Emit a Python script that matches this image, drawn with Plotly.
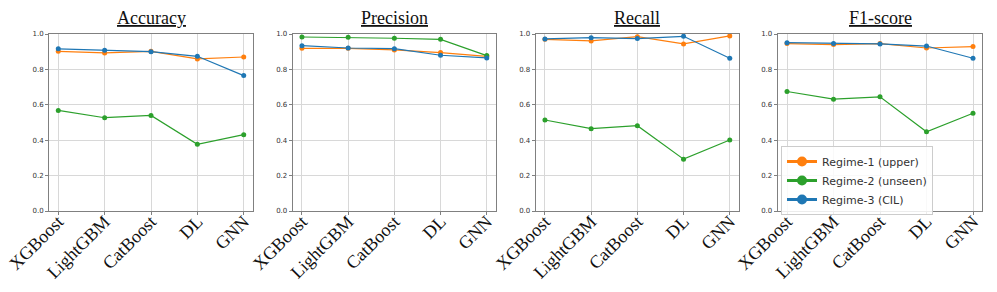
import plotly.graph_objects as go
from plotly.subplots import make_subplots

models = ["XGBoost", "LightGBM", "CatBoost", "DL", "GNN"]
metrics = ["Accuracy", "Precision", "Recall", "F1-score"]
regimes = ["Regime-1 (upper)", "Regime-2 (unseen)", "Regime-3 (CIL)"]
colors = ["#ff7f0e", "#2ca02c", "#1f77b4"]

# values per metric, per regime (upper, unseen, CIL)
accuracy = [
    [0.902, 0.893, 0.902, 0.859, 0.870],
    [0.568, 0.527, 0.540, 0.377, 0.431],
    [0.916, 0.908, 0.900, 0.874, 0.765],
]
precision = [
    [0.919, 0.919, 0.910, 0.895, 0.874],
    [0.983, 0.981, 0.976, 0.970, 0.878],
    [0.934, 0.921, 0.917, 0.880, 0.865],
]
recall = [
    [0.970, 0.961, 0.985, 0.944, 0.989],
    [0.514, 0.465, 0.482, 0.293, 0.401],
    [0.972, 0.979, 0.974, 0.987, 0.863],
]
f1 = [
    [0.946, 0.940, 0.946, 0.921, 0.929],
    [0.675, 0.632, 0.645, 0.448, 0.552],
    [0.951, 0.947, 0.944, 0.932, 0.863],
]
all_values = [accuracy, precision, recall, f1]

# the page body has an 8px margin, so work in a frame shifted by 8px
OFF = 8
W, H = 997 - OFF, 292 - OFF
x_doms = [(49, 253), (292.7, 496), (535.7, 739), (777.7, 982.3)]
y_top, y_bot = 34, 211

fig = make_subplots(rows=1, cols=4)

for c, vals in enumerate(all_values):
    for r in range(3):
        fig.add_trace(go.Scatter(
            x=models, y=vals[r], mode="lines+markers",
            line=dict(color=colors[r], width=1.2),
            marker=dict(color=colors[r], size=5),
            showlegend=False, name=regimes[r],
        ), row=1, col=c + 1)

# legend-only entries with bigger symbols (like markerscale)
for r in range(3):
    fig.add_trace(go.Scatter(
        x=[None], y=[None], mode="lines+markers",
        line=dict(color=colors[r], width=3),
        marker=dict(color=colors[r], size=10),
        name=regimes[r], showlegend=True,
    ), row=1, col=4)

for c in range(4):
    x0, x1 = x_doms[c][0] - OFF, x_doms[c][1] - OFF
    fig.update_xaxes(
        domain=[x0 / W, x1 / W], range=[-0.2, 4.2], automargin=False,
        categoryorder="array", categoryarray=models,
        tickangle=-45, tickfont=dict(family="Liberation Serif", size=18, color="#111"),
        ticklabelstandoff=-11,
        showgrid=True, gridcolor="#d8d8d8", gridwidth=1,
        showline=True, linecolor="#808080", linewidth=1, mirror=True,
        ticks="outside", ticklen=3, tickcolor="#808080",
        zeroline=False, row=1, col=c + 1,
    )
    fig.update_yaxes(
        domain=[1 - (y_bot - OFF) / H, 1 - (y_top - OFF) / H], range=[0, 1],
        automargin=False,
        tickvals=[0, 0.2, 0.4, 0.6, 0.8, 1.0], tickformat=".1f",
        tickfont=dict(family="DejaVu Sans", size=7, color="#333"),
        showgrid=True, gridcolor="#d8d8d8", gridwidth=1,
        showline=True, linecolor="#808080", linewidth=1, mirror=True,
        ticks="outside", ticklen=3, tickcolor="#808080",
        zeroline=False, row=1, col=c + 1,
    )
    fig.add_annotation(
        text="<u>" + metrics[c] + "</u>", xref="paper", yref="paper",
        x=(x0 + x1) / 2 / W, y=1 - (18 - OFF) / H, xanchor="center", yanchor="middle",
        showarrow=False, font=dict(family="Liberation Serif", size=18, color="#111"),
    )

fig.update_layout(
    template="none",
    width=W, height=H, margin=dict(l=0, r=0, t=0, b=0, autoexpand=False),
    paper_bgcolor="white", plot_bgcolor="white",
    legend=dict(
        x=(781 - OFF) / W, y=1 - (146 - OFF) / H, xanchor="left", yanchor="top",
        bgcolor="rgba(255,255,255,0.85)", bordercolor="#cccccc", borderwidth=1,
        font=dict(family="DejaVu Sans", size=11, color="#333"),
        tracegroupgap=0,
    ),
)

fig.write_html("out.html")
